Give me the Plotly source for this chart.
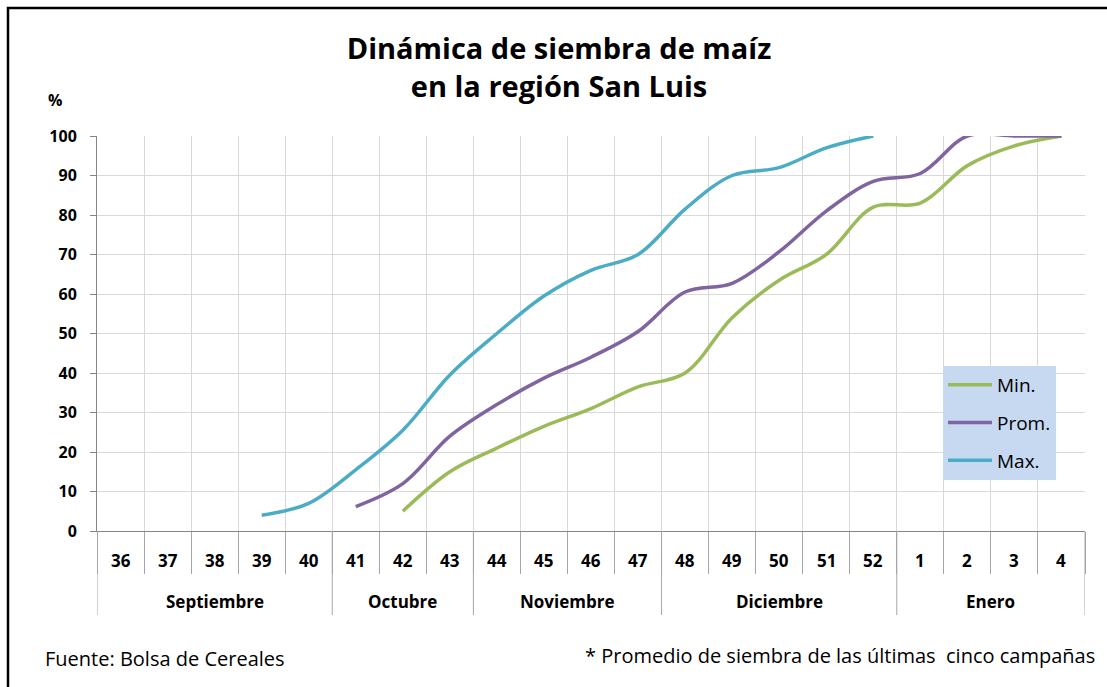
import plotly.graph_objects as go

weeks = ["36", "37", "38", "39", "40", "41", "42", "43", "44", "45", "46", "47",
         "48", "49", "50", "51", "52", "1", "2", "3", "4"]
months = ["Septiembre", "Octubre", "Noviembre", "Diciembre", "Enero"]
month_weeks = [5, 3, 4, 5, 4]  # number of weeks in each month group

min_vals = [None, None, None, None, None, None, 5, 15, 21, 26.5, 31, 36.5,
            40, 54, 63.5, 70, 82, 83, 92.5, 97.5, 100]
prom_vals = [None, None, None, None, None, 6.2, 12, 24, 32, 38.7, 44, 50.5,
             60.5, 62.7, 70.7, 81, 88.5, 90.5, 100, 100, 100]
max_vals = [None, None, None, 4, 7, 15.5, 25.5, 39.5, 50, 59.5, 66, 70,
            81.5, 90, 92, 97, 100, None, None, None, None]

series = [("Min.", min_vals, "#9BBB59"),
          ("Prom.", prom_vals, "#8064A2"),
          ("Max.", max_vals, "#4BACC6")]

FONT = "'Open Sans', 'Noto Sans', sans-serif"

L, R, T, B = 97, 22, 136, 156
W, H = 1107, 687
pw, ph = W - L - R, H - T - B


def px(xp):
    return (xp - L) / pw


def py(yp):
    return (H - B - yp) / ph


fig = go.Figure()
for name, vals, color in series:
    fig.add_trace(go.Scatter(
        x=weeks, y=vals, name=name, mode="lines",
        line=dict(color=color, width=3.5, shape="spline", smoothing=1.0),
        legendgroup=name, connectgaps=False,
    ))

n = len(weeks)
bounds = [-0.5]
for c in month_weeks:
    bounds.append(bounds[-1] + c)

shapes = []
for b in bounds:
    shapes.append(dict(type="line", xref="x", yref="paper", x0=b, x1=b,
                       y0=0, y1=py(615), line=dict(color="#a6a6a6", width=1)))

annotations = []
for i, m in enumerate(months):
    annotations.append(dict(x=(bounds[i] + bounds[i + 1]) / 2, y=py(601),
                            xref="x", yref="paper", text="<b>%s</b>" % m,
                            showarrow=False, xanchor="center", yanchor="middle",
                            font=dict(size=17, color="#000", family=FONT)))
for i, w in enumerate(weeks):
    annotations.append(dict(x=i, y=py(560), xref="x", yref="paper",
                            text="<b>%s</b>" % w, showarrow=False,
                            xanchor="center", yanchor="middle",
                            font=dict(size=17, color="#000", family=FONT)))
annotations.append(dict(x=px(55), y=py(100), xref="paper", yref="paper",
                        text="<b>%</b>", showarrow=False,
                        xanchor="center", yanchor="middle",
                        font=dict(size=16, color="#000", family=FONT)))
annotations.append(dict(x=px(43), y=py(658), xref="paper", yref="paper",
                        text="Fuente: Bolsa de Cereales", showarrow=False,
                        xanchor="left", yanchor="middle",
                        font=dict(size=20, color="#000", family=FONT)))
annotations.append(dict(x=px(1097), y=py(655), xref="paper", yref="paper",
                        text="* Promedio de siembra de las últimas  cinco campañas",
                        showarrow=False, xanchor="right", yanchor="middle",
                        font=dict(size=20, color="#000", family=FONT)))

# outer frame
shapes.append(dict(type="rect", xref="paper", yref="paper",
                   x0=px(8), x1=px(1120), y0=py(8), y1=py(700),
                   line=dict(color="#000", width=2.5), layer="above"))

fig.update_layout(
    width=W, height=H,
    margin=dict(l=L, r=R, t=T, b=B),
    paper_bgcolor="white", plot_bgcolor="white",
    title=dict(text="<b>Dinámica de siembra de maíz<br>en la región San Luis</b>",
               x=559 / W, xanchor="center", xref="container",
               y=1 - 59 / H, yanchor="top", yref="container",
               font=dict(size=29, color="#000", family=FONT)),
    showlegend=True,
    legend=dict(x=px(943), y=py(366), xanchor="left", yanchor="top",
                bgcolor="#C6D9F1", borderwidth=0, tracegroupgap=10,
                traceorder="grouped", itemwidth=44,
                font=dict(size=19, color="#000", family=FONT)),
    shapes=shapes, annotations=annotations,
    xaxis=dict(type="category", range=[-0.5, n - 0.5], tickson="boundaries",
               showgrid=True, gridcolor="#D9D9D9", gridwidth=1,
               ticks="outside", ticklen=42, tickcolor="#a6a6a6", tickwidth=1,
               showticklabels=False, showline=True, linecolor="#868686", linewidth=1,
               zeroline=False, fixedrange=True),
    yaxis=dict(range=[0, 100], dtick=10, showgrid=True, gridcolor="#D9D9D9",
               gridwidth=1, ticks="outside", ticklen=6, tickcolor="#868686",
               showline=True, linecolor="#868686", linewidth=1, zeroline=False,
               ticklabelstandoff=10,
               tickfont=dict(size=16, color="#000", family=FONT),
               tickprefix="<b>", ticksuffix="</b>"),
)

fig.write_html("out.html", post_script="document.body.style.margin='0';",
               config={"displayModeBar": False})
